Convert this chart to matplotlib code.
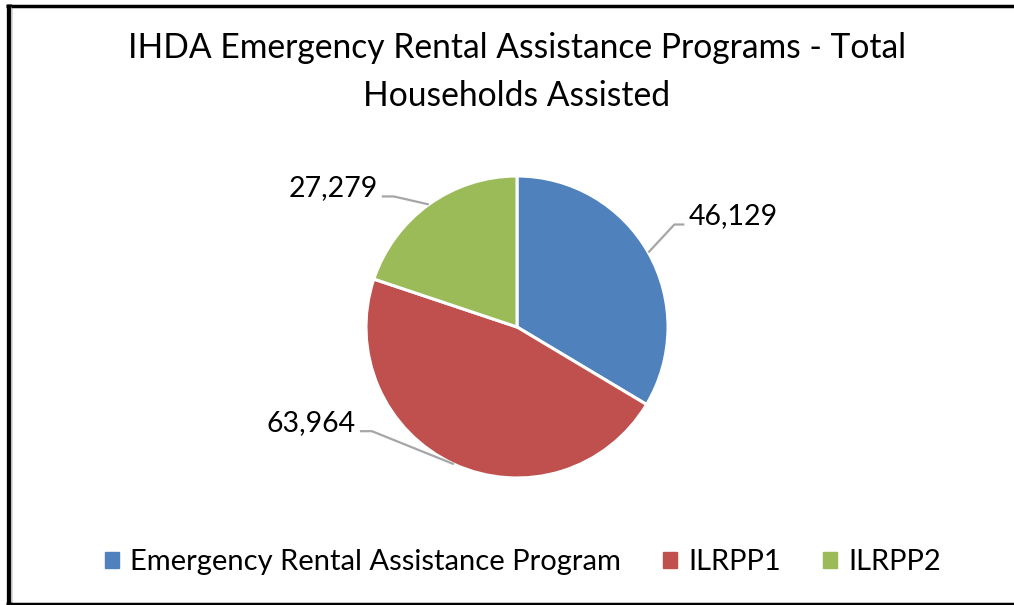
import matplotlib
matplotlib.use("Agg")
import matplotlib.pyplot as plt
import numpy as np
from matplotlib.lines import Line2D

categories = ["Emergency Rental Assistance Program", "ILRPP1", "ILRPP2"]
households = [46129, 63964, 27279]
colors = ["#4F81BD", "#C0504D", "#9BBB59"]
title = "IHDA Emergency Rental Assistance Programs - Total\nHouseholds Assisted"

plt.rcParams['font.family'] = ['Lato', 'DejaVu Sans']

W, H = 1014, 605
fig = plt.figure(figsize=(W / 100, H / 100), dpi=100)
ax = fig.add_axes([0, 0, 1, 1])

cx, cy, r = 517, H - 327, 151
wedges, _ = ax.pie(households, colors=colors, startangle=90, counterclock=False,
                   center=(cx, cy), radius=r,
                   wedgeprops=dict(edgecolor='white', linewidth=2.2))
ax.set_xlim(0, W)
ax.set_ylim(0, H)
ax.set_aspect('equal')
ax.axis('off')

# label layout per wedge (blue, red, green): elbow dx, elbow dy, stub length (px)
layout = [
    (26, 28, 10),
    (-82, 33, -12),
    (-35, 8, -12),
]
for w, val, (edx, edy, stub) in zip(wedges, households, layout):
    ang = np.deg2rad((w.theta1 + w.theta2) / 2)
    ax0 = cx + r * np.cos(ang)
    ay0 = cy + r * np.sin(ang)
    ex, ey = ax0 + edx, ay0 + edy
    sx = ex + stub
    ax.add_line(Line2D([ax0, ex, sx], [ay0, ey, ey], color='#A6A6A6', lw=1.6,
                       solid_capstyle='butt'))
    ha = 'left' if stub > 0 else 'right'
    ax.text(sx + (4 if stub > 0 else -4), ey + 8, f"{val:,}", ha=ha, va='center',
            fontsize=20.5, color='black')

fig.text(517 / W, 1 - 72 / H, title, ha='center', va='center', fontsize=24.2,
         linespacing=1.6, color='black')

handles = [plt.Rectangle((0, 0), 1, 1, color=c) for c in colors]
fig.legend(handles, categories, loc='center', bbox_to_anchor=(523 / W, 1 - 562 / H),
           ncol=3, frameon=False, fontsize=21, handlelength=0.48, handleheight=0.48,
           handletextpad=0.38, columnspacing=1.45, borderaxespad=0, borderpad=0)

# chart border
ax.add_line(Line2D([6, W], [H - 5.5, H - 5.5], color='black', lw=2.5, solid_capstyle='butt'))
ax.add_line(Line2D([8.5, 8.5], [0, H - 4], color='black', lw=3.8, solid_capstyle='butt'))
ax.add_line(Line2D([6, W], [1.5, 1.5], color='black', lw=2.5, solid_capstyle='butt'))
ax.add_line(Line2D([11, 11], [3, H - 7], color='#BFBFBF', lw=0.8, solid_capstyle='butt'))

fig.savefig("out.png", dpi=100)
